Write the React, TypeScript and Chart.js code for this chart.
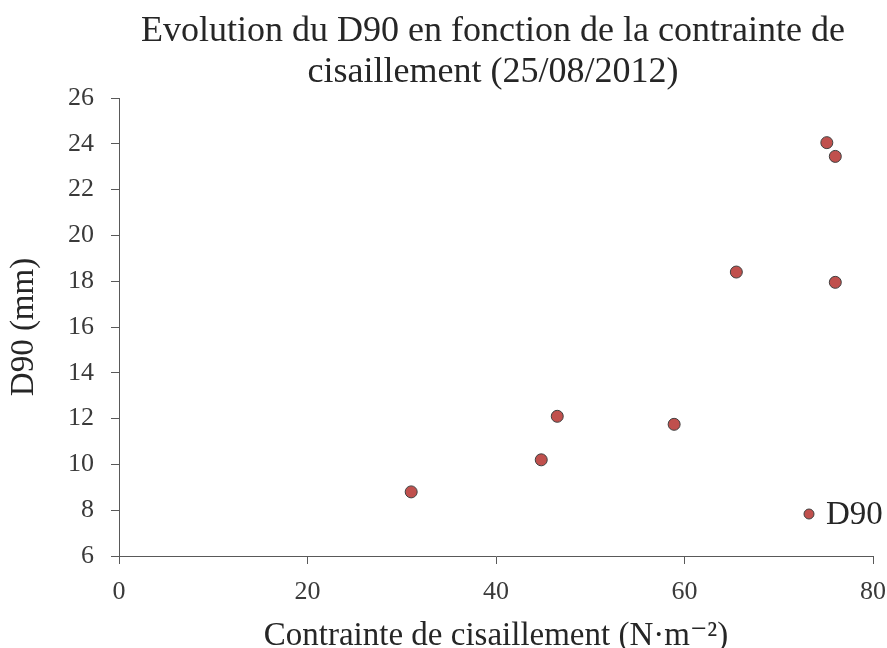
import React, { useEffect, useRef } from "react";
import { Chart, registerables } from "chart.js";

Chart.register(...registerables);

const xValues = [31, 44.8, 46.5, 58.9, 65.5, 75.1, 76, 76];
const yValues = [8.8, 10.2, 12.1, 11.75, 18.4, 24.05, 23.45, 17.95];
const seriesLabel = "D90";
const titleLines = ["Evolution du D90 en fonction de la contrainte de", "cisaillement (25/08/2012)"];
const xTitle = "Contrainte de cisaillement (N·m⁻²)";
const yTitle = "D90 (mm)";

const FONT = "'Liberation Serif', 'DejaVu Serif', serif";
const TEXT = "#262626";
const TICK_TEXT = "#3a3a3a";
const AXIS = "#595959";
const FILL = "#C0504D";
const BORDER = "#404040";

const titleAndLegend = {
  id: "titleAndLegend",
  afterDraw(chart: any) {
    const { ctx, chartArea } = chart;
    const ds = chart.data.datasets[0];
    ctx.save();
    // title
    const cx = (chartArea.left + chartArea.right) / 2 - 3;
    ctx.fillStyle = TEXT;
    ctx.font = `36px ${FONT}`;
    ctx.textAlign = "center";
    ctx.textBaseline = "alphabetic";
    titleLines.forEach((line, i) => ctx.fillText(line, cx, 41 + i * 41));
    // legend inside plot area
    const x = chartArea.right - 64;
    const y = chartArea.bottom - 42;
    ctx.beginPath();
    ctx.arc(x, y, 5, 0, Math.PI * 2);
    ctx.fillStyle = ds.backgroundColor;
    ctx.fill();
    ctx.lineWidth = 1;
    ctx.strokeStyle = ds.borderColor;
    ctx.stroke();
    ctx.fillStyle = TEXT;
    ctx.font = `33px ${FONT}`;
    ctx.textBaseline = "middle";
    ctx.textAlign = "left";
    ctx.fillText(ds.label, x + 17, y + 1);
    ctx.restore();
  },
};

export default function App() {
  const ref = useRef<HTMLCanvasElement>(null);
  useEffect(() => {
    const chart = new Chart(ref.current!, {
      type: "scatter",
      data: {
        datasets: [
          {
            label: seriesLabel,
            data: xValues.map((x, i) => ({ x, y: yValues[i] })),
            backgroundColor: FILL,
            borderColor: BORDER,
            borderWidth: 1,
            pointRadius: 6,
          },
        ],
      },
      options: {
        animation: false,
        responsive: true,
        maintainAspectRatio: false,
        layout: { padding: { left: 0, right: 14, top: 98, bottom: 0 } },
        plugins: {
          legend: { display: false },
          tooltip: { enabled: false },
          title: { display: false },
        },
        scales: {
          x: {
            type: "linear",
            min: 0,
            max: 80,
            afterFit: (s: any) => {
              s.height = 92;
              s.paddingLeft = 0;
              s.paddingRight = 0;
            },
            ticks: { stepSize: 20, color: TICK_TEXT, font: { family: FONT, size: 26 }, padding: 13 },
            grid: { drawOnChartArea: false, drawTicks: true, tickLength: 8, color: AXIS },
            border: { display: true, color: AXIS, width: 1 },
            title: {
              display: true,
              text: xTitle,
              color: TEXT,
              font: { family: FONT, size: 33, lineHeight: 1 },
              padding: { top: 0, bottom: -5 },
            },
          },
          y: {
            type: "linear",
            min: 6,
            max: 26,
            afterFit: (s: any) => {
              s.width = 119;
              s.paddingTop = 0;
              s.paddingBottom = 0;
            },
            ticks: { stepSize: 2, color: TICK_TEXT, font: { family: FONT, size: 26 }, padding: 17 },
            grid: { drawOnChartArea: false, drawTicks: true, tickLength: 8, color: AXIS },
            border: { display: true, color: AXIS, width: 1 },
            title: {
              display: true,
              text: yTitle,
              color: TEXT,
              font: { family: FONT, size: 33, lineHeight: 1 },
              padding: { top: 8, bottom: 0 },
            },
          },
        },
      },
      plugins: [titleAndLegend],
    });
    return () => chart.destroy();
  }, []);
  return (
    <div style={{ position: "fixed", left: 0, top: 0, width: 887, height: 648, background: "#fff" }}>
      <canvas ref={ref} />
    </div>
  );
}
